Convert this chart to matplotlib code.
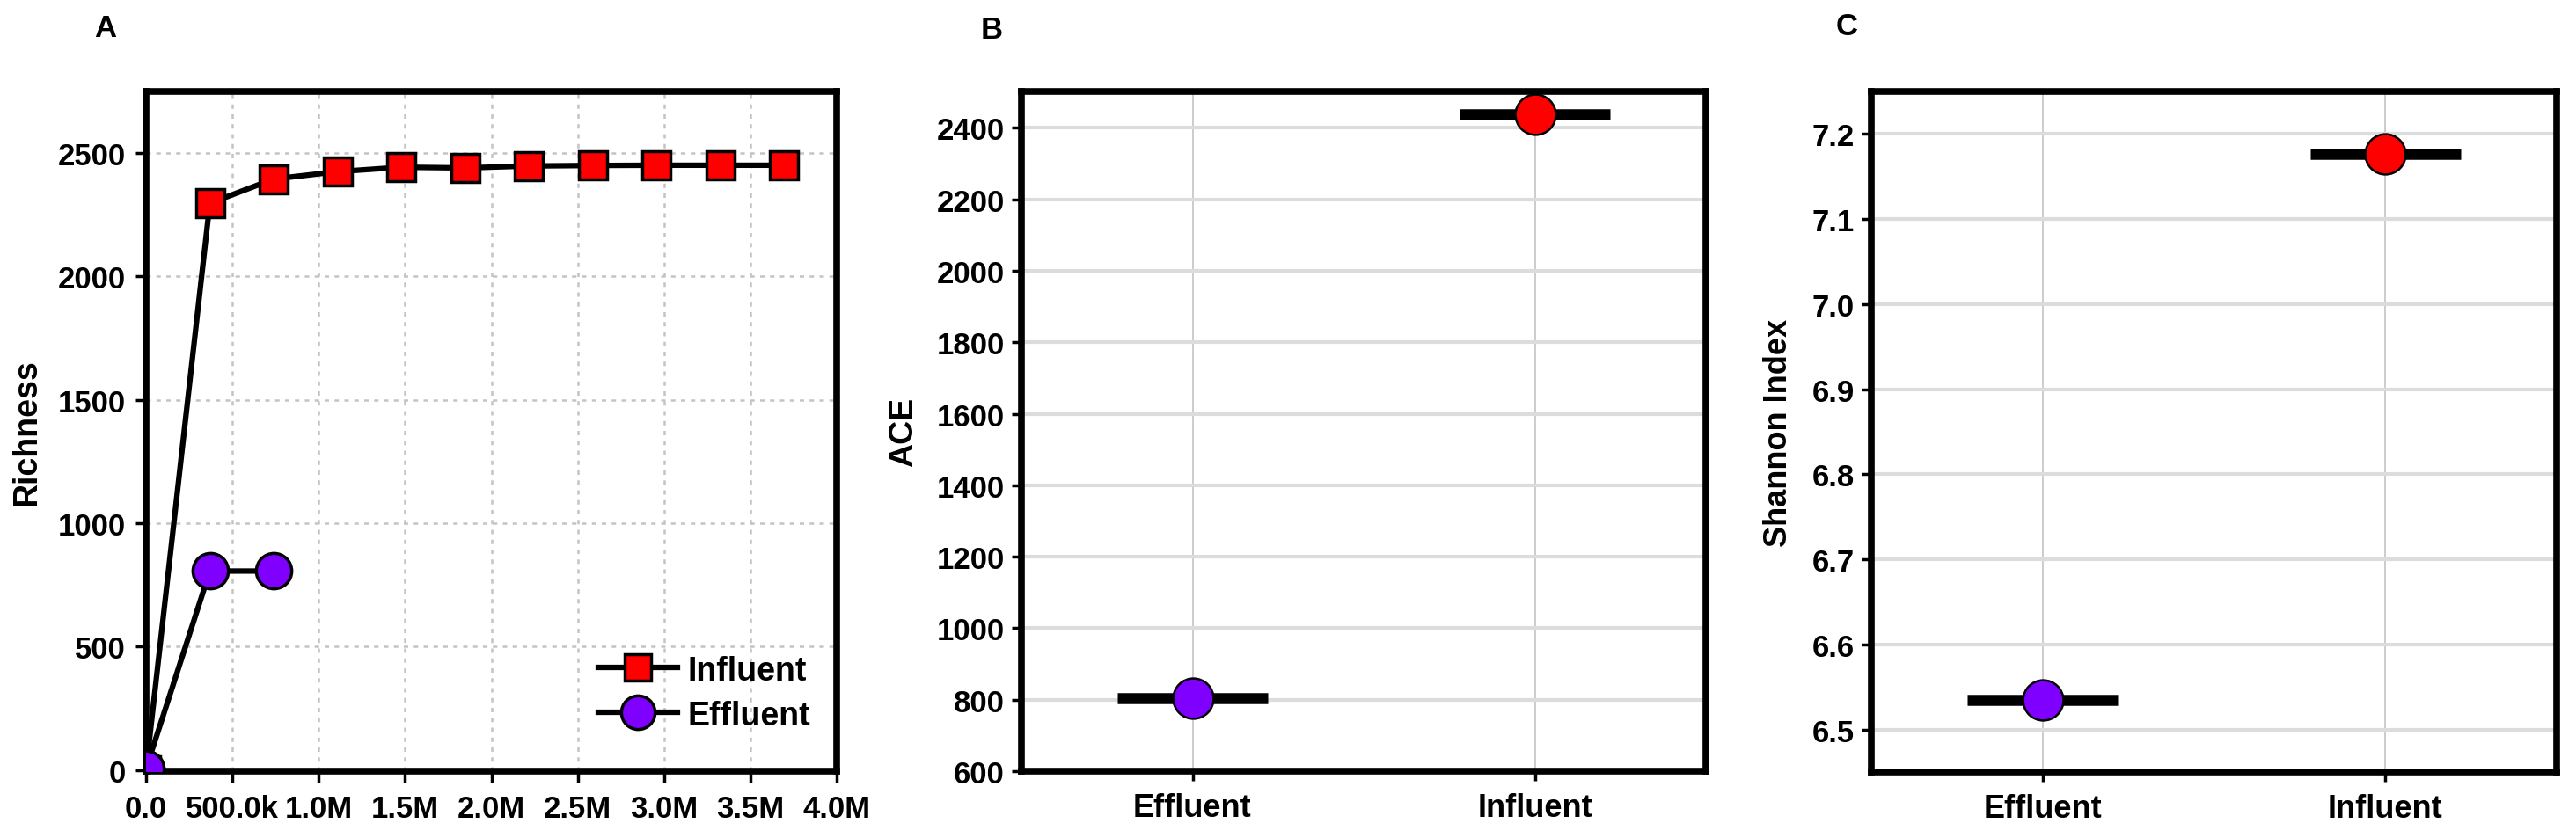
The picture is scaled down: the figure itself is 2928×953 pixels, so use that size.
import matplotlib
matplotlib.use("Agg")
import matplotlib.pyplot as plt

# ---------------- data ----------------
depth = [0, 369600, 739200, 1108800, 1478400, 1848000, 2217600, 2587200, 2956800, 3326400, 3696000]
influent_richness = [0, 2297, 2395, 2425, 2443, 2440, 2448, 2450, 2451, 2451, 2451]
effluent_depth = [0, 369600, 739200]
effluent_richness = [5, 806, 806]

xticks_a = [0, 500000, 1000000, 1500000, 2000000, 2500000, 3000000, 3500000, 4000000]
xticklabels_a = ["0.0", "500.0k", "1.0M", "1.5M", "2.0M", "2.5M", "3.0M", "3.5M", "4.0M"]
yticks_a = [0, 500, 1000, 1500, 2000, 2500]

groups = ["Effluent", "Influent"]
ace = [804, 2439]
shannon = [6.535, 7.177]
yticks_b = [600, 800, 1000, 1200, 1400, 1600, 1800, 2000, 2200, 2400]
yticks_c = [6.5, 6.6, 6.7, 6.8, 6.9, 7.0, 7.1, 7.2]

RED = "#ff0000"
PURPLE = "#7f00ff"
group_colors = [PURPLE, RED]

# ---------------- fonts ----------------
plt.rcParams['font.family'] = ['Liberation Sans', 'DejaVu Sans']
plt.rcParams['font.weight'] = 'bold'

fig = plt.figure(figsize=(29.28, 9.54), dpi=100)

W, H = 2928, 954
def rect(l, r, t, b):
    return [l / W, 1 - b / H, (r - l) / W, (b - t) / H]

axA = fig.add_axes(rect(166, 951, 105, 878))
axB = fig.add_axes(rect(1161, 1939, 105, 878))
axC = fig.add_axes(rect(2127, 2906, 105, 879))

def style_frame(ax):
    for s in ax.spines.values():
        s.set_linewidth(5.5)
        s.set_color("black")

# ---------------- panel A ----------------
axA.plot(depth, influent_richness, color="black", lw=4.5, marker="s", ms=23,
         mfc=RED, mec="black", mew=2.5, label="Influent", zorder=3)
axA.plot(effluent_depth, effluent_richness, color="black", lw=4.5, marker="o", ms=29,
         mfc=PURPLE, mec="black", mew=2.5, label="Effluent", zorder=4)
axA.set_xlim(0, 4000000)
axA.set_ylim(-5, 2750)
axA.set_xticks(xticks_a)
axA.set_xticklabels(xticklabels_a, fontsize=25, fontweight='bold')
axA.set_yticks(yticks_a)
axA.tick_params(axis='y', labelsize=25)
axA.tick_params(length=9, width=2.5, pad=8)
axA.tick_params(axis='x', pad=10)
axA.grid(True, ls=(0, (2, 2.5)), color="#c4c4c4", lw=1.8)
axA.set_axisbelow(True)
axA.set_ylabel("Richness", fontsize=27, fontweight='bold')
axA.yaxis.set_label_coords(-0.15, 0.5)
leg = axA.legend(loc="lower right", frameon=False, fontsize=27, handlelength=2.4,
                 handletextpad=0.3, labelspacing=0.4, borderaxespad=0.4,
                 bbox_to_anchor=(1.0, 0.02), markerscale=0.95)
style_frame(axA)

# ---------------- panels B and C ----------------
def cat_panel(ax, vals, yticks, ylim, ylabel, labx, lab_fs):
    xs = list(range(len(groups)))
    for x, v, c in zip(xs, vals, group_colors):
        ax.hlines(v, x - 0.22, x + 0.22, color="black", lw=9, zorder=3)
        ax.plot([x], [v], marker="o", ms=33, mfc=c, mec="black", mew=1.8, ls="none", zorder=4)
    ax.set_xlim(-0.5, 1.5)
    ax.set_ylim(*ylim)
    ax.set_xticks(xs)
    ax.set_xticklabels(groups, fontsize=26, fontweight='bold')
    ax.set_yticks(yticks)
    ax.tick_params(axis='y', labelsize=25)
    ax.tick_params(length=8, width=2.5, pad=6)
    ax.tick_params(axis='x', pad=9)
    ax.yaxis.grid(True, color="#dcdcdc", lw=3)
    ax.xaxis.grid(True, color="#c8c8c8", lw=1.3)
    ax.set_axisbelow(True)
    ax.set_ylabel(ylabel, fontsize=lab_fs, fontweight='bold')
    ax.yaxis.set_label_coords(labx, 0.5)
    style_frame(ax)

cat_panel(axB, ace, yticks_b, (600, 2502), "ACE", -0.149, 27)
cat_panel(axC, shannon, yticks_c, (6.45, 7.25), "Shannon Index", -0.113, 26)
axC.set_yticklabels([f"{t:.1f}" for t in yticks_c])

# ---------------- panel letters ----------------
fig.text(120 / W, 1 - 32 / H, "A", fontsize=25, fontweight='bold', ha='center', va='center')
fig.text(1127 / W, 1 - 35 / H, "B", fontsize=25, fontweight='bold', ha='center', va='center')
fig.text(2099 / W, 1 - 31 / H, "C", fontsize=25, fontweight='bold', ha='center', va='center')

fig.savefig("out.png", dpi=100, facecolor="white")
